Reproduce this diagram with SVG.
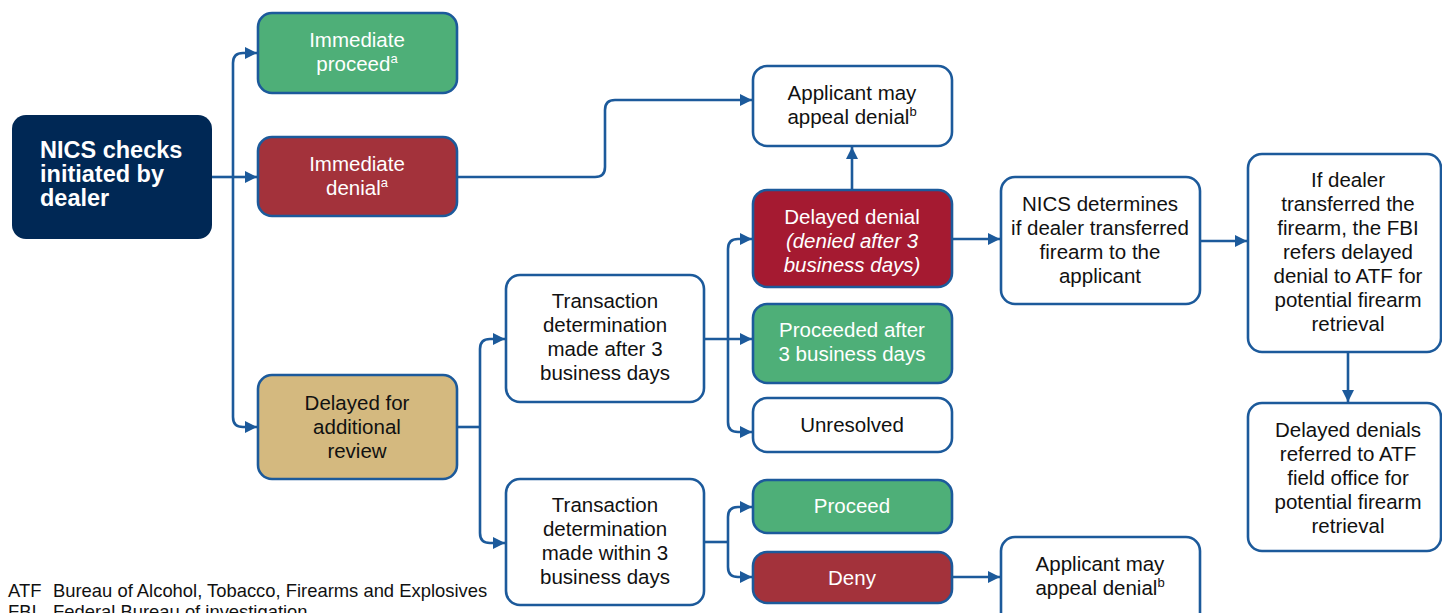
<svg xmlns="http://www.w3.org/2000/svg" width="1442" height="613" viewBox="0 0 1442 613">
<style>
.box{stroke:#1C5A9B;stroke-width:2.6}
.w{fill:#ffffff}
.g{fill:#4EAF78}
.r{fill:#A3323B}
.dr{fill:#A51A31}
.t{fill:#D4B97F}
.n{fill:#002855;stroke:none}
text{font-family:"Liberation Sans",Arial,sans-serif;font-size:20.5px;text-anchor:middle}
.lt{fill:#ffffff}
.dk{fill:#111111}
.bold{font-weight:bold;font-size:23.5px;text-anchor:start;fill:#ffffff}
.fn{font-size:18.4px;text-anchor:start;fill:#111111}
.conn path{fill:none;stroke:#1C5A9B;stroke-width:2.6;marker-end:url(#ah)}
.conn path.nm{marker-end:none}
</style>
<defs>
<marker id="ah" markerUnits="userSpaceOnUse" markerWidth="14" markerHeight="14" refX="12" refY="7" orient="auto">
<path d="M0,1 L12,7 L0,13 Z" fill="#1C5A9B"/>
</marker>
</defs>
<rect width="1442" height="613" fill="#ffffff"/>

<g class="conn" id="connectors">
<path class="nm" d="M212,177 H234"/>
<path d="M233,177 H257"/>
<path d="M233,177 V63 Q233,53 243,53 H257"/>
<path d="M233,177 V417 Q233,427 243,427 H257"/>
<path d="M457,177 H595 Q605,177 605,167 V110 Q605,100 615,100 H752"/>
<path d="M852,190 V147"/>
<path class="nm" d="M457,427 H481"/>
<path d="M480,427 V349 Q480,339 490,339 H505"/>
<path d="M480,427 V533 Q480,543 490,543 H505"/>
<path d="M704,339 H752"/>
<path d="M728,339 V249 Q728,239 738,239 H752"/>
<path d="M728,339 V422 Q728,432 738,432 H752"/>
<path class="nm" d="M704,542 H729"/>
<path d="M728,542 V517 Q728,507 738,507 H752"/>
<path d="M728,542 V567 Q728,577 738,577 H752"/>
<path d="M952,239 H1000"/>
<path d="M952,577 H1000"/>
<path d="M1200,241 H1247"/>
<path d="M1348,352 V402"/>
</g>

<g id="nics">
<rect class="n" x="12" y="115" width="200" height="124" rx="14"/>
<text class="bold" x="40" y="158">NICS checks</text>
<text class="bold" x="40" y="182">initiated by</text>
<text class="bold" x="40" y="206">dealer</text>
</g>

<g id="imm-proceed">
<rect class="box g" x="258" y="13" width="199" height="80" rx="14"/>
<text class="lt" x="357" y="47">Immediate</text>
<text class="lt" x="357" y="71">proceed<tspan font-size="13" dy="-8">a</tspan></text>
</g>

<g id="imm-denial">
<rect class="box r" x="258" y="137" width="199" height="79" rx="14"/>
<text class="lt" x="357" y="171">Immediate</text>
<text class="lt" x="357" y="195">denial<tspan font-size="13" dy="-8">a</tspan></text>
</g>

<g id="delayed-review">
<rect class="box t" x="258" y="375" width="199" height="104" rx="14"/>
<text class="dk" x="357" y="410">Delayed for</text>
<text class="dk" x="357" y="434">additional</text>
<text class="dk" x="357" y="458">review</text>
</g>

<g id="appeal-top">
<rect class="box w" x="753" y="66" width="199" height="80" rx="14"/>
<text class="dk" x="852" y="100">Applicant may</text>
<text class="dk" x="852" y="124">appeal denial<tspan font-size="13" dy="-8">b</tspan></text>
</g>

<g id="delayed-denial">
<rect class="box dr" x="753" y="190" width="199" height="97" rx="14"/>
<text class="lt" x="852" y="224">Delayed denial</text>
<text class="lt" x="852" y="248" font-style="italic">(denied after 3</text>
<text class="lt" x="852" y="272" font-style="italic">business days)</text>
</g>

<g id="trans-after">
<rect class="box w" x="506" y="275" width="198" height="127" rx="14"/>
<text class="dk" x="605" y="308">Transaction</text>
<text class="dk" x="605" y="332">determination</text>
<text class="dk" x="605" y="356">made after 3</text>
<text class="dk" x="605" y="380">business days</text>
</g>

<g id="proceeded-after">
<rect class="box g" x="753" y="304" width="199" height="79" rx="14"/>
<text class="lt" x="852" y="337">Proceeded after</text>
<text class="lt" x="852" y="361">3 business days</text>
</g>

<g id="unresolved">
<rect class="box w" x="753" y="398" width="199" height="54" rx="14"/>
<text class="dk" x="852" y="432">Unresolved</text>
</g>

<g id="trans-within">
<rect class="box w" x="506" y="479" width="198" height="126" rx="14"/>
<text class="dk" x="605" y="512">Transaction</text>
<text class="dk" x="605" y="536">determination</text>
<text class="dk" x="605" y="560">made within 3</text>
<text class="dk" x="605" y="584">business days</text>
</g>

<g id="proceed">
<rect class="box g" x="753" y="480" width="199" height="53" rx="14"/>
<text class="lt" x="852" y="513">Proceed</text>
</g>

<g id="deny">
<rect class="box r" x="753" y="552" width="199" height="51" rx="14"/>
<text class="lt" x="852" y="585">Deny</text>
</g>

<g id="nics-determines">
<rect class="box w" x="1001" y="177" width="199" height="127" rx="14"/>
<text class="dk" x="1100" y="211">NICS determines</text>
<text class="dk" x="1100" y="235">if dealer transferred</text>
<text class="dk" x="1100" y="259">firearm to the</text>
<text class="dk" x="1100" y="283">applicant</text>
</g>

<g id="if-dealer">
<rect class="box w" x="1248" y="154" width="193" height="198" rx="14"/>
<text class="dk" x="1348" y="187">If dealer</text>
<text class="dk" x="1348" y="211">transferred the</text>
<text class="dk" x="1348" y="235">firearm, the FBI</text>
<text class="dk" x="1348" y="259">refers delayed</text>
<text class="dk" x="1348" y="283">denial to ATF for</text>
<text class="dk" x="1348" y="307">potential firearm</text>
<text class="dk" x="1348" y="331">retrieval</text>
</g>

<g id="delayed-denials-atf">
<rect class="box w" x="1248" y="403" width="193" height="148" rx="14"/>
<text class="dk" x="1348" y="437">Delayed denials</text>
<text class="dk" x="1348" y="461">referred to ATF</text>
<text class="dk" x="1348" y="485">field office for</text>
<text class="dk" x="1348" y="509">potential firearm</text>
<text class="dk" x="1348" y="533">retrieval</text>
</g>

<g id="appeal-bottom">
<rect class="box w" x="1001" y="537" width="199" height="100" rx="14"/>
<text class="dk" x="1100" y="571">Applicant may</text>
<text class="dk" x="1100" y="595">appeal denial<tspan font-size="13" dy="-8">b</tspan></text>
</g>

<g id="footnotes">
<text class="fn" x="8" y="597">ATF</text>
<text class="fn" x="53" y="597">Bureau of Alcohol, Tobacco, Firearms and Explosives</text>
<text class="fn" x="8" y="618">FBI</text>
<text class="fn" x="53" y="618">Federal Bureau of investigation</text>
</g>
</svg>
